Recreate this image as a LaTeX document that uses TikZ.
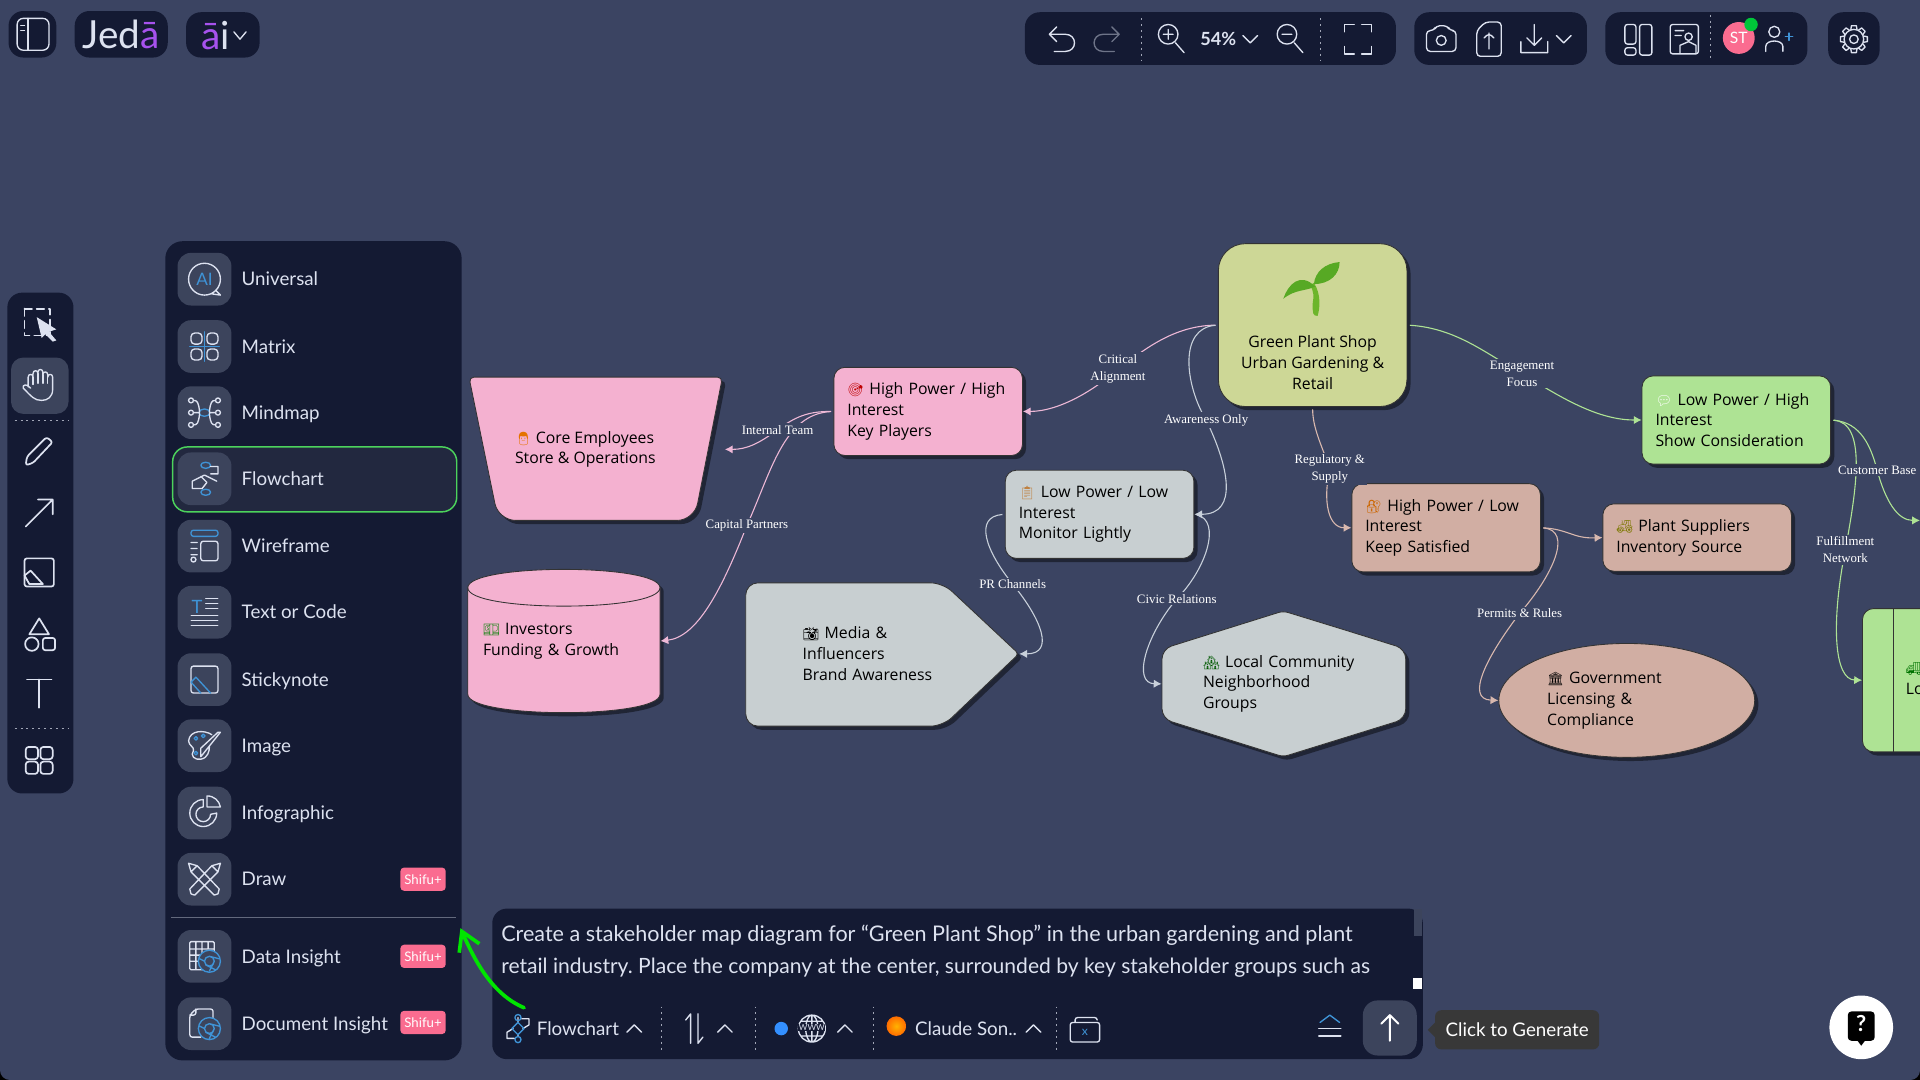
\documentclass[tikz,border=0pt]{standalone}
\usepackage{fontspec}
\usetikzlibrary{shapes.geometric,shadows,arrows.meta}
\newfontfamily\diagramfont{Open Sans}
\newfontfamily\uifont{Lato}
\newfontfamily\linkfont{Liberation Serif}
\newfontfamily\emojifont{Noto Emoji}
\newcommand{\holdermark}[2]{{\fontsize{5.4}{8.5}\emojifont\textcolor{#1}{#2}}}
\definecolor{appbg}{HTML}{3B4462}
\definecolor{panelbg}{HTML}{141A33}
\definecolor{tilebg}{HTML}{3C445C}
\definecolor{uiwhite}{HTML}{DDE2F0}
\definecolor{accentblue}{HTML}{3F93D6}
\definecolor{markgreen}{HTML}{4CD35C}
\definecolor{logopurple}{HTML}{A752EE}
\definecolor{pinkfill}{HTML}{F4B1D0}
\definecolor{greyfill}{HTML}{C8CFD1}
\definecolor{centerfill}{HTML}{CDD796}
\definecolor{greenfill}{HTML}{AEE394}
\definecolor{tanfill}{HTML}{D1AEA3}
\definecolor{pinklink}{HTML}{EDB8D6}
\definecolor{greylink}{HTML}{C8D0DA}
\definecolor{tanlink}{HTML}{D8B8AE}
\definecolor{badgepink}{HTML}{FA6C90}
\definecolor{leafgreen}{HTML}{57A924}
\definecolor{stemgreen}{HTML}{6DB52B}
\tikzset{
  boxsize/.style 2 args={minimum width=#1*0.5pt,minimum height=#2*0.5pt,inner sep=0pt},
  holder/.style={draw=black!80,line width=.35pt,drop shadow={shadow xshift=1.5pt,shadow yshift=-1.5pt,opacity=.45,fill=black}},
  holderbox/.style={holder,rectangle,rounded corners=4.5pt,text=black,font=\fontsize{6.45}{8.5}\selectfont\diagramfont},
  holdertext/.style={text=black,font=\fontsize{6.45}{8.5}\selectfont\diagramfont,inner sep=0pt},
  link/.style={line width=.45pt,-{Latex[length=3.2pt,width=3.4pt]},shorten <=1pt},
  linklabel/.style={fill=appbg,text=white,inner sep=.8pt,align=center,font=\fontsize{5.25}{7}\selectfont\linkfont},
  pill/.style={fill=panelbg,rounded corners=6pt},
  icon/.style={draw=uiwhite,line width=.55pt,line cap=round,line join=round},
  iconblue/.style={draw=accentblue,line width=.55pt,line cap=round,line join=round},
  menutile/.style={fill=tilebg,rounded corners=5.5pt,minimum width=22pt,minimum height=21.5pt,inner sep=0pt},
  menutext/.style={anchor=west,text=uiwhite,inner sep=0pt,text height=6.5pt,text depth=1pt,font=\fontsize{7.65}{10}\selectfont\uifont},
  badge/.style={fill=badgepink,rounded corners=1.5pt,minimum width=18.5pt,minimum height=9.5pt,inner sep=0pt,text=white,font=\fontsize{5.4}{6}\selectfont\uifont},
  dotsep/.style={draw=uiwhite!70!panelbg,line width=.4pt,dash pattern=on .8pt off 1.6pt},
}
\begin{document}
\begin{tikzpicture}[x=0.5pt,y=-0.5pt]
  \useasboundingbox (0,0) rectangle (1568,882);
  \clip (0,0) rectangle (1568,882);

  % Window
  \fill[black] (0,0) rectangle (1568,882);
  \fill[appbg,rounded corners=4pt] (0,-20) rectangle (1568,882);

  % Top left pills
  \fill[pill] (7,9) rectangle (46,47);
  \fill[pill] (61,9) rectangle (137,47);
  \fill[pill] (152,10) rectangle (212,47);
  \draw[icon,rounded corners=2.5pt] (14,15) rectangle (40,41);
  \draw[icon] (23,15) -- (23,41) (17,21) -- (20,21) (17,25) -- (20,25);
  \node[text=uiwhite,inner sep=0pt,font=\fontsize{15.8}{18}\selectfont\uifont] (logo) at (99,28) {Jed\textcolor{logopurple}{ā}};
  \node[text=logopurple,inner sep=0pt,font=\fontsize{15.8}{18}\selectfont\uifont] (logoai) at (176,29) {ā\textcolor{uiwhite}{i}};
  \draw[icon] (191,26) -- (196,32) -- (201,26);

  % Top right toolbar
  \fill[pill] (837,10) rectangle (1140,53);
  \fill[pill] (1155,10) rectangle (1296,53);
  \fill[pill] (1311,10) rectangle (1476,53);
  \fill[pill] (1493,10) rectangle (1535,53);
  \draw[icon,shift={(867,32)}] (-4,-10) -- (-10,-4) -- (-4,2) (-10,-4) -- (3,-4) .. controls (13,-4) and (13,10) .. (3,10) -- (-6,10);
  \draw[icon,draw=uiwhite!45!panelbg,shift={(904,32)}] (4,-10) -- (10,-4) -- (4,2) (10,-4) -- (-3,-4) .. controls (-13,-4) and (-13,10) .. (-3,10) -- (6,10);
  \draw[dotsep] (932,15) -- (932,49);
  \draw[icon,shift={(956,31)}] (-2,-3) circle (8) (4,4) -- (11,12) (-6,-3) -- (2,-3) (-2,-7) -- (-2,1);
  \node[text=uiwhite,inner sep=0pt,font=\fontsize{7.4}{8}\selectfont\bfseries\uifont] (zoomvalue) at (995,32) {54\%};
  \draw[icon] (1015,29) -- (1021,35) -- (1027,29);
  \draw[icon,shift={(1053,31)}] (-2,-3) circle (8) (4,4) -- (11,12) (-6,-3) -- (2,-3);
  \draw[dotsep] (1078,15) -- (1078,49);
  \draw[icon,shift={(1109,32)}] (-11,-6) -- (-11,-12) -- (-3,-12) (3,-12) -- (11,-12) -- (11,-6) (11,6) -- (11,12) -- (3,12) (-3,12) -- (-11,12) -- (-11,6);
  \draw[icon,rounded corners=1.5pt,shift={(1177,32)}] (-12,-7) -- (-6,-7) -- (-4,-11) -- (5,-11) -- (7,-7) -- (12,-7) -- (12,10) -- (-12,10) -- cycle;
  \draw[icon,shift={(1177,33)}] (0,0) circle (4);
  \draw[icon,rounded corners=1.5pt,shift={(1216,32)}] (-3,-14) -- (10,-14) -- (10,14) -- (-10,14) -- (-10,-7) -- cycle (0,8) -- (0,-5) (-4,-1) -- (0,-5) -- (4,-1);
  \draw[icon,shift={(1253,32)}] (0,-12) -- (0,5) (-6,-1) -- (0,5) -- (6,-1) (-11,2) -- (-11,11) -- (11,11) -- (11,2);
  \draw[icon] (1271,29) -- (1277,35) -- (1283,29);
  \draw[icon,rounded corners=1pt,shift={(1338,32)}] (-11,-12) rectangle (-2,4) (-11,7) rectangle (-2,13) (1,-12) rectangle (11,13);
  \draw[icon,rounded corners=1pt,shift={(1375,32)}] (-11,-12) rectangle (12,12) (-7,-7) -- (0,-7) (-7,-3) -- (-2,-3);
  \draw[icon,shift={(1375,32)}] (4,-2) circle (3) (-3,11) -- (-3,5) -- (4,2) -- (10,5) -- (10,11);
  \draw[dotsep] (1397,12) -- (1397,50);
  \fill[fill=badgepink] (1420,31) circle (13);
  \node[text=white,inner sep=0pt,font=\fontsize{6.4}{7}\selectfont\uifont] (avatar) at (1420,31) {ST};
  \fill[fill=green!55!teal] (1430,20) circle (5.5);
  \draw[icon,shift={(1449,32)}] (0,-6) circle (4.5) (-7,10) -- (-7,6) .. controls (-7,0) and (7,0) .. (7,6) -- (7,10);
  \draw[iconblue,shift={(1449,32)}] (9,-2) -- (15,-2) (12,-5) -- (12,1);
  \draw[icon,shift={(1514,32)}] (0,0) circle (3.5) (0,0) circle (8);
  \foreach \a in {0,45,...,315}
    \draw[icon,shift={(1514,32)},rotate=\a] (-2.5,-8) -- (-2,-11) -- (2,-11) -- (2.5,-8);

  % Left toolbar
  \fill[panelbg,rounded corners=6pt] (6,239) rectangle (60,648);
  \fill[tilebg,rounded corners=5pt] (9,292) rectangle (56,338);
  \draw[icon,dash pattern=on 3pt off 2pt,line width=.8pt] (20,252) rectangle (41,274);
  \fill[uiwhite] (30,259) -- (46,269) -- (40,271) -- (46,278) -- (43,279) -- (37,273) -- (34,276) -- cycle;
  \draw[icon,shift={(32,314)}] (-9,2) -- (-9,-6) .. controls (-9,-9) and (-5,-9) .. (-5,-6) -- (-5,-9) .. controls (-5,-12) and (-1,-12) .. (-1,-9) -- (-1,-10) .. controls (-1,-13) and (3,-13) .. (3,-10) -- (3,-8) .. controls (3,-11) and (7,-11) .. (7,-8) -- (7,-6) .. controls (7,-9) and (11,-9) .. (11,-6) -- (11,4) .. controls (11,10) and (7,13) .. (2,13) .. controls (-4,13) and (-6,10) .. (-13,3) .. controls (-14,0) and (-10,-1) .. (-7,3);
  \draw[icon,shift={(32,314)}] (-5,-6) -- (-5,0) (-1,-9) -- (-1,-1) (3,-8) -- (3,-1) (7,-6) -- (7,-1);
  \draw[dotsep] (12,343) -- (56,343);
  \draw[icon,line width=.7pt,rounded corners=1pt,shift={(32,368)}] (-11,12) -- (-10,5) -- (6,-11) -- (11,-7) -- (-5,10) -- cycle;
  \draw[icon,line width=.7pt,shift={(32,418)}] (-11,12) -- (11,-10) (-1,-10) -- (11,-10) -- (11,2);
  \draw[icon,line width=.7pt,rounded corners=1pt,shift={(32,467)}] (-12,-11) rectangle (12,12);
  \draw[icon,line width=.7pt,shift={(32,467)}] (-12,3) -- (-7,-1) -- (3,10) -- (-8,10) -- cycle;
  \draw[icon,line width=.7pt,shift={(32,517)}] (0,-12) -- (-8,1) -- (8,1) -- cycle (-6,9) circle (5.5);
  \draw[icon,line width=.7pt,rounded corners=1pt,shift={(32,517)}] (3,4) rectangle (13,14);
  \draw[icon,line width=.7pt,shift={(32,566)}] (-10,-11) -- (10,-11) (0,-11) -- (0,12);
  \draw[dotsep] (12,595) -- (56,595);
  \draw[icon,line width=.7pt,rounded corners=1.2pt,shift={(32,621)}] (-11,-11) rectangle (-1,-1) (1,-11) rectangle (11,-1) (-11,1) rectangle (-1,11) (1,1) rectangle (11,11);

  % Menu panel
  \fill[panelbg,rounded corners=7pt] (135,197) rectangle (377,866);
  \draw[draw=tilebg!80,line width=.3pt] (140,749) -- (372,749);
  \draw[draw=markgreen,line width=.6pt,fill=white!6!panelbg,rounded corners=6pt] (141,365) rectangle (373,418);

  % Menu tiles and names
  \node[menutile] (tileuniversal) at (167,228) {};
  \node[menutext] (menuuniversal) at (197,228) {Universal};
  \node[menutile] (tilematrix) at (167,283) {};
  \node[menutext] (menumatrix) at (197,283) {Matrix};
  \node[menutile] (tilemindmap) at (167,337) {};
  \node[menutext] (menumindmap) at (197,337) {Mindmap};
  \node[menutile] (tileflowchart) at (167,391) {};
  \node[menutext] (menuflowchart) at (197,391) {Flowchart};
  \node[menutile] (tilewireframe) at (167,446) {};
  \node[menutext] (menuwireframe) at (197,446) {Wireframe};
  \node[menutile] (tiletext) at (167,500) {};
  \node[menutext] (menutextcode) at (197,500) {Text or Code};
  \node[menutile] (tilesticky) at (167,555) {};
  \node[menutext] (menusticky) at (197,555) {Stickynote};
  \node[menutile] (tileimage) at (167,609) {};
  \node[menutext] (menuimage) at (197,609) {Image};
  \node[menutile] (tileinfo) at (167,664) {};
  \node[menutext] (menuinfo) at (197,664) {Infographic};
  \node[menutile] (tiledraw) at (167,718) {};
  \node[menutext] (menudraw) at (197,718) {Draw};
  \node[menutile] (tiledata) at (167,781) {};
  \node[menutext] (menudata) at (197,781) {Data Insight};
  \node[menutile] (tiledoc) at (167,836) {};
  \node[menutext] (menudoc) at (197,836) {Document Insight};
  \node[badge] (badgedraw) at (345.5,718) {Shifu+};
  \node[badge] (badgedata) at (345.5,781) {Shifu+};
  \node[badge] (badgedoc) at (345.5,835) {Shifu+};

  % Menu icons
  \draw[icon,shift={(167,228)}] (0,0) circle (13) (9,9) -- (13,13) -- (6,12);
  \node[text=accentblue,inner sep=0pt,font=\fontsize{7}{8}\selectfont\uifont] (iconai) at (167,228) {AI};
  \draw[icon,rounded corners=1.5pt,shift={(167,283)}] (-11,-11) rectangle (-2,-2) (2,-11) rectangle (11,-2) (-11,2) rectangle (-2,11) (2,2) rectangle (11,11);
  \draw[iconblue,shift={(167,283)}] (-12,0) -- (12,0) (0,-12) -- (0,12);
  \draw[iconblue,shift={(167,337)}] (0,0) ellipse (4.5 and 3);
  \draw[icon,shift={(167,337)}] (-4,-1) .. controls (-5,-9) and (-6,-10) .. (-9,-10) (4,-1) .. controls (5,-9) and (6,-10) .. (9,-10) (-4,1) .. controls (-5,9) and (-6,10) .. (-9,10) (4,1) .. controls (5,9) and (6,10) .. (9,10) (-4,0) -- (-9,0) (4,0) -- (9,0) (-11,-10) circle (2) (11,-10) circle (2) (-11,0) circle (2) (11,0) circle (2) (-11,10) circle (2) (11,10) circle (2);
  \draw[iconblue,shift={(167,391)}] (1,-11) ellipse (4 and 2.5) (1,11) ellipse (4 and 2.5);
  \draw[icon,shift={(167,391)}] (-10,2) -- (0,-3) -- (10,2) (-10,2) -- (-10,8) -- (-2,8) -- (2,3) -- (-3,-2) (5,-4) -- (11,-4) -- (11,-10) -- (5,-10);
  \draw[iconblue,rounded corners=1pt,shift={(167,446)}] (-11,-13) rectangle (11,-8);
  \draw[icon,rounded corners=1pt,shift={(167,446)}] (-3,-4) rectangle (11,12) (-11,-3) -- (-6,-3) (-11,2) -- (-6,2) (-11,7) -- (-6,7) (-9,11) circle (2);
  \node[text=accentblue,inner sep=0pt,font=\fontsize{7.5}{8}\selectfont\uifont] (icontee) at (161,496) {T};
  \draw[icon,shift={(167,500)},line width=.4pt] (1,-11) -- (11,-11) (1,-7) -- (11,-7) (1,-3) -- (11,-3) (-11,3) -- (11,3) (-11,7) -- (11,7) (-11,11) -- (11,11);
  \draw[icon,rounded corners=1pt,shift={(167,555)}] (-11,-11) rectangle (11,11);
  \draw[iconblue,shift={(167,555)}] (-11,2) -- (-7,-2) -- (5,11) (-11,2) -- (-3,11);
  \draw[icon,shift={(167,609)}] (6,-9) .. controls (0,-13) and (-12,-13) .. (-13,-4) .. controls (-13,0) and (-8,1) .. (-9,4) .. controls (-12,8) and (-8,12) .. (-3,11) .. controls (3,10) and (4,4) .. (4,1) (13,-11) -- (1,4) -- (-3,9) -- (-3,2) -- (11,-11) -- cycle;
  \draw[iconblue,shift={(167,609)}] (-7,-6) circle (1.5) (-1,-8) circle (1.5) (-7,6) circle (1.5);
  \draw[icon,shift={(167,664)}] (-1,-11) arc (270:0:11) -- (5,1) arc (0:270:6) -- cycle (2,-14) -- (2,-5) -- (13,-5) .. controls (12,-10) and (8,-14) .. (2,-14);
  \draw[icon,shift={(167,718)}] (-11,12) -- (-8,13) -- (11,-6) -- (6,-11) -- (-12,8) -- cycle (6,-11) -- (13,-13) -- (11,-6) (11,12) -- (8,13) -- (-11,-6) -- (-6,-11) -- (12,8) -- cycle (-6,-11) -- (-13,-13) -- (-11,-6);
  \draw[icon,rounded corners=.5pt,shift={(167,781)}] (-12,-12) rectangle (8,11) (-12,-6) -- (8,-6) (-12,-1) -- (1,-1) (-12,4) -- (1,4) (-7,-12) -- (-7,11) (-2,-12) -- (-2,11) (3,-12) -- (3,-6);
  \draw[iconblue,fill=tilebg,shift={(167,781)}] (4,4) circle (9);
  \draw[iconblue,shift={(167,781)}] (4,4) circle (4) (4,0) -- (12,2) (8,4) -- (4,12) (0,4) -- (-4,2) (1,7) -- (9,11);
  \draw[icon,rounded corners=1pt,shift={(167,836)}] (-3,11) -- (-12,11) -- (-12,-7) -- (-7,-12) -- (7,-12) -- (7,-5) (-7,-12) -- (-7,-7) -- (-12,-7);
  \draw[iconblue,shift={(167,836)}] (4,4) circle (9) (4,4) circle (4) (4,0) -- (12,2) (8,4) -- (4,12) (0,4) -- (-4,2) (1,7) -- (9,11);

  % Drawing stakeholder shapes
  \node[holderbox,fill=centerfill,boxsize={154}{133},rounded corners=11pt] (center) at (1072,265.5) {};
  \node[holderbox,fill=pinkfill,boxsize={154}{72},text width=66pt,align=left] (highhigh) at (758,336) {\holdermark{red!75!black}{🎯} High Power / High\\Interest\\Key Players};
  \node[holderbox,fill=greyfill,boxsize={154}{72},text width=66pt,align=left] (lowlow) at (898,420) {\holdermark{brown}{📋} Low Power / Low\\Interest\\Monitor Lightly};
  \node[holderbox,fill=tanfill,boxsize={154}{72},text width=66pt,align=left] (highlow) at (1181,431) {\holdermark{orange!80!black}{🔐} High Power / Low\\Interest\\Keep Satisfied};
  \node[holderbox,fill=greenfill,boxsize={154}{72},text width=66pt,align=left] (lowhigh) at (1418,343) {\holdermark{white}{💬} Low Power / High\\Interest\\Show Consideration};
  \node[holderbox,fill=tanfill,boxsize={154}{55},text width=66pt,align=left] (suppliers) at (1386,439) {\holdermark{olive!90!black}{🚜} Plant Suppliers\\Inventory Source};
  \path[holder,fill=pinkfill] (486,308) [rounded corners=2pt] -- (590,308) [rounded corners=7pt] -- (567,425) -- (407,425) [rounded corners=2pt] -- (383,308) -- cycle;
  \node[holdertext,boxsize={207}{117}] (core) at (486.5,366.5) {};
  \node[holdertext,align=left] (coretext) at (478,367) {\holdermark{orange!90!black}{👨} Core Employees\\Store \& Operations};
  \path[holder,fill=pinkfill] (382,480) .. controls (382,460) and (539,460) .. (539,480) -- (539,567) .. controls (539,587) and (382,587) .. (382,567) -- cycle;
  \draw[draw=black!80,line width=.35pt] (382,480) .. controls (382,500) and (539,500) .. (539,480);
  \node[holdertext,boxsize={157}{117},text width=66pt,align=left] (investors) at (460.5,523.5) {\holdermark{green!50!black}{💵} Investors\\Funding \& Growth};
  \path[holder,fill=greyfill] (700,476) [rounded corners=5pt] -- (770,476) [rounded corners=1.5pt] -- (832,534) [rounded corners=5pt] -- (770,593) -- (609,593) -- (609,476) -- cycle;
  \node[holdertext,boxsize={223}{117},text width=65pt,align=left] (media) at (720.5,534) {\holdermark{black}{📸} Media \&\\Influencers\\Brand Awareness};
  \path[holder,fill=greyfill] (1100,515) [rounded corners=4pt] -- (1148,530) -- (1148,587) [rounded corners=2pt] -- (1048,618) [rounded corners=4pt] -- (949,587) -- (949,530) [rounded corners=2pt] -- (1048,499) -- cycle;
  \node[holdertext,boxsize={199}{119},text width=66pt,align=left] (local) at (1048.5,558.5) {\holdermark{green!35!black}{🏘} Local Community\\Neighborhood\\Groups};
  \node[holder,ellipse,fill=tanfill,boxsize={209}{93},text width=65pt,align=left,holdertext] (government) at (1328.5,572) {\holdermark{black}{🏛} Government\\Licensing \&\\Compliance};
  \node[holderbox,fill=greenfill,boxsize={200}{117}] (logistics) at (1621,555.5) {};
  \draw[draw=black!80,line width=.35pt] (1546,497) -- (1546,614);
  \node[holdertext,anchor=west,align=left] (logisticstext) at (1556,554) {\holdermark{green!45!black}{🚚}\\Lo};
  \coordinate (coreport) at (592,367);
  \coordinate (offpage) at (1568,425);

  % Sprout in the center box
  \fill[stemgreen] (1073,231) .. controls (1079,240) and (1078,252) .. (1076,258) .. controls (1072,258) and (1072,256) .. (1072,248) .. controls (1073,242) and (1073,238) .. (1070,233) -- cycle;
  \fill[leafgreen] (1048,244) .. controls (1052,232) and (1062,222) .. (1074,234) .. controls (1066,238) and (1058,236) .. (1048,244) -- cycle;
  \fill[leafgreen] (1073,232) .. controls (1074,222) and (1082,215) .. (1094,214) .. controls (1094,224) and (1086,232) .. (1073,232) -- cycle;
  \node[holdertext,align=center] (centertext) at (1072,296) {Green Plant Shop\\Urban Gardening \&\\Retail};

  % Drawing links of the center box
  \draw[link,draw=pinklink] (center.west) .. controls (955,266) and (930,290) .. (913,301) node[linklabel] (critical) {Critical\\Alignment} .. controls (895,318) and (865,336) .. (highhigh.east);
  \draw[link,draw=greylink] (center.west) .. controls (962,268) and (968,315) .. (985,343) node[linklabel] (awareness) {Awareness Only} .. controls (1003,380) and (1012,420) .. (lowlow.east);
  \draw[link,draw=tanlink] (center.south) .. controls (1072,350) and (1080,365) .. (1086,383) node[linklabel] (regulatory) {Regulatory \&\\Supply} .. controls (1080,410) and (1085,431) .. (highlow.west);
  \draw[link,draw=greenfill] (center.east) .. controls (1190,268) and (1215,290) .. (1243,305) node[linklabel] (engagement) {Engagement\\Focus} .. controls (1275,325) and (1305,343) .. (lowhigh.west);

  % Drawing links of the other boxes
  \draw[link,draw=pinklink] (highhigh.west) .. controls (640,338) and (630,385) .. (610,429) node[linklabel] (capital) {Capital Partners} .. controls (590,480) and (570,520) .. (investors.east);
  \draw[link,draw=pinklink] (highhigh.west) .. controls (660,336) and (650,340) .. (635,351) node[linklabel] (internal) {Internal Team} .. controls (620,362) and (610,367) .. (coreport);
  \draw[link,draw=greylink] (lowlow.west) .. controls (795,422) and (805,450) .. (827,477) node[linklabel] (channels) {PR Channels} .. controls (850,505) and (862,534) .. (media.east);
  \draw[link,draw=greylink] (lowlow.east) .. controls (998,425) and (985,465) .. (961,489) node[linklabel] (civic) {Civic Relations} .. controls (935,520) and (925,558) .. (local.west);
  \draw[link,draw=tanlink] (highlow.east) .. controls (1280,432) and (1285,440) .. (suppliers.west);
  \draw[link,draw=tanlink] (highlow.east) .. controls (1285,433) and (1268,470) .. (1241,501) node[linklabel] (permits) {Permits \& Rules} .. controls (1215,535) and (1196,571) .. (government.west);
  \draw[link,draw=greenfill] (lowhigh.east) .. controls (1525,345) and (1516,400) .. (1507,449) node[linklabel] (fulfillment) {Fulfillment\\Network} .. controls (1495,510) and (1498,555) .. (logistics.west);
  \draw[link,draw=greenfill] (lowhigh.east) .. controls (1520,345) and (1528,365) .. (1533,384) node[linklabel] (customer) {Customer Base} .. controls (1540,410) and (1550,425) .. (offpage);

  % Prompt panel
  \fill[panelbg,rounded corners=6pt] (402,742) rectangle (1162,865);
  \fill[tilebg] (1155,742) rectangle (1161,764);
  \fill[white] (1154,799) rectangle (1161,808);
  \node[anchor=base west,text=uiwhite,inner sep=0pt,font=\fontsize{8.8}{10}\selectfont\uifont\frenchspacing] (promptone) at (409,769) {Create a stakeholder map diagram for “Green Plant Shop” in the urban gardening and plant};
  \node[anchor=base west,text=uiwhite,inner sep=0pt,font=\fontsize{8.6}{10}\selectfont\uifont\frenchspacing] (prompttwo) at (409,795) {retail industry. Place the company at the center, surrounded by key stakeholder groups such as};
  \draw[icon,shift={(423,840)}] (0,-9) -- (0,-5) (-4,0) -- (-9,3) -- (-9,8) -- (-3,8) (4,0) -- (9,-3) -- (9,-8) -- (3,-8) (0,5) -- (0,6);
  \draw[iconblue,shift={(423,840)}] (0,-9) circle (2.5) (0,9) circle (2.5) (0,-5) -- (5,0) -- (0,5) -- (-5,0) -- cycle;
  \node[menutext] (modelabel) at (438,840) {Flowchart};
  \draw[icon] (512,843) -- (518,837) -- (524,843);
  \draw[dotsep] (540,822) -- (540,858);
  \draw[icon,shift={(567,840)}] (-3,12) -- (-3,-12) -- (-7,-7) (3,-12) -- (3,12) -- (7,7);
  \draw[icon] (586,843) -- (592,837) -- (598,843);
  \draw[dotsep] (617,822) -- (617,858);
  \fill[fill=blue!55!cyan!80] (638,840) circle (5.5);
  \draw[icon,shift={(663,840)}] (0,0) circle (11) (0,0) ellipse (5 and 11) (0,-11) -- (0,11) (-9,-6) -- (9,-6) (-9,6) -- (9,6);
  \node[text=uiwhite,fill=panelbg,inner sep=.2pt,font=\fontsize{3.4}{4}\selectfont\uifont] (iconwww) at (663,839) {WWW};
  \draw[icon] (684,843) -- (690,837) -- (696,843);
  \draw[dotsep] (713,822) -- (713,858);
  \shade[inner color=orange!60!yellow,outer color=orange!85!red] (732,838) circle (8);
  \node[menutext] (modelname) at (747,840) {Claude Son..};
  \draw[icon] (838,843) -- (844,837) -- (850,843);
  \draw[dotsep] (863,822) -- (863,858);
  \draw[icon,rounded corners=1pt,shift={(886,841)}] (-8,-6) -- (-8,-10) -- (10,-10) -- (10,-8) (-12,-6) rectangle (12,10);
  \node[text=accentblue,inner sep=0pt,font=\fontsize{5}{6}\selectfont\uifont] (iconx) at (886,843) {x};
  \draw[iconblue] (1078,835) -- (1086,829) -- (1094,835);
  \draw[icon] (1077,840) -- (1095,840) (1077,846) -- (1095,846);
  \node[fill=tilebg,rounded corners=6pt,minimum width=22pt,minimum height=22.5pt,inner sep=0pt] (generate) at (1135,839.5) {};
  \draw[icon,draw=white,line width=.8pt] (1135,850) -- (1135,829) (1128,836) -- (1135,829) -- (1142,836);

  % Tooltip and help button
  \fill[fill=black!78] (1172,835) -- (1166,841) -- (1172,847) -- cycle;
  \node[fill=black!78,rounded corners=2.5pt,minimum width=67pt,minimum height=16pt,inner sep=0pt,text=white,font=\fontsize{7.65}{10}\selectfont\uifont] (tooltip) at (1239,841) {Click to Generate};
  \fill[white] (1520,839) circle (26);
  \fill[black,rounded corners=1.5pt] (1509,826) rectangle (1531,850);
  \fill[black] (1517,850) -- (1520,854) -- (1523,850) -- cycle;
  \node[text=white,inner sep=0pt,font=\fontsize{9}{10}\selectfont\bfseries\uifont] (helpmark) at (1520,836) {?};

  % Hand drawn green arrow
  \coordinate (arrowstart) at (428,823);
  \coordinate (arrowtip) at (376,758);
  \draw[draw=green!90!black,line width=1.5pt,line cap=round,-{Straight Barb[length=7.5pt,width=9pt]}] (arrowstart) .. controls (402,812) and (388,785) .. (arrowtip);
\end{tikzpicture}
\end{document}
